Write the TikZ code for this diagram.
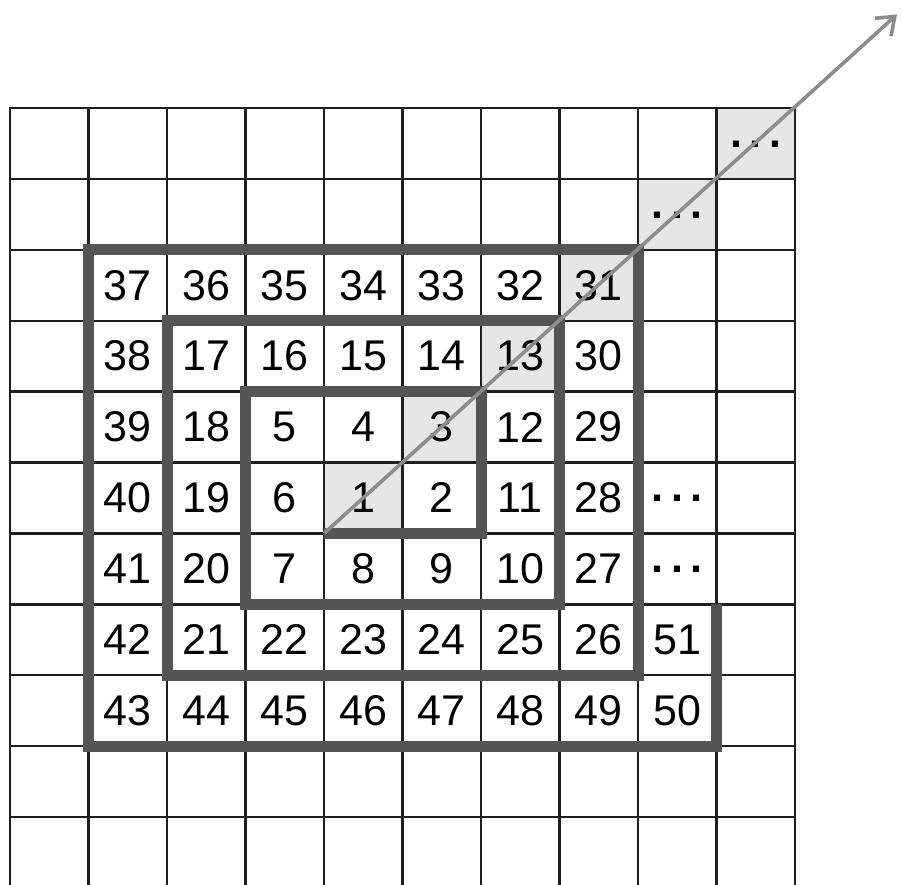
\documentclass[tikz,border=0pt]{standalone}
\usepackage{fontspec}
\setmainfont{Liberation Sans}
\usetikzlibrary{arrows.meta}
\definecolor{spiralgrey}{HTML}{555555}
\definecolor{shadegrey}{HTML}{E6E6E6}
\definecolor{arrowgrey}{HTML}{8C8C8C}
\begin{document}
\begin{tikzpicture}[x=78.5pt,y=-70.9pt,
  gridline/.style={line width=2.4pt, draw=black!88},
  spiralline/.style={line width=11pt, draw=spiralgrey, line join=miter, line cap=butt},
  shaded/.style={fill=shadegrey},
  num/.style={inner sep=0pt, font=\fontsize{43}{50}\selectfont},
  dotsnode/.style={inner sep=0pt, anchor=base, yshift=-4pt, font=\fontsize{43}{50}\selectfont\bfseries},
  diag/.style={line width=3.6pt, draw=arrowgrey, -{Straight Barb[length=16pt,width=24pt]}}
]
\useasboundingbox (-10pt,108pt) rectangle (892pt,-776pt);
\clip (-10pt,108pt) rectangle (892pt,-776pt);
% shaded diagonal cells
\foreach \c/\r in {4/5,5/4,6/3,7/2,8/1,9/0}
  \fill[shaded] (\c,\r) rectangle ++(1,1);
% grid
\foreach \i in {0,...,10}
  \draw[gridline] (\i,0) -- (\i,11.2);
\foreach \j in {0,...,10}
  \draw[gridline, line cap=rect] (0,\j) -- (10,\j);
% spiral
\draw[spiralline] (4,6) -- (6,6) -- (6,4) -- (3,4) -- (3,7) -- (7,7) -- (7,3) -- (2,3) -- (2,8) -- (8,8) -- (8,2) -- (1,2) -- (1,9) -- (9,9) -- (9,7);
% numbers
\foreach \n/\c/\r in {1/4/5,2/5/5,3/5/4,4/4/4,5/3/4,6/3/5,7/3/6,8/4/6,9/5/6,
  10/6/6,11/6/5,12/6/4,13/6/3,14/5/3,15/4/3,16/3/3,17/2/3,18/2/4,19/2/5,
  20/2/6,21/2/7,22/3/7,23/4/7,24/5/7,25/6/7,26/7/7,27/7/6,28/7/5,29/7/4,
  30/7/3,31/7/2,32/6/2,33/5/2,34/4/2,35/3/2,36/2/2,37/1/2,38/1/3,39/1/4,
  40/1/5,41/1/6,42/1/7,43/1/8,44/2/8,45/3/8,46/4/8,47/5/8,48/6/8,49/7/8,
  50/8/8,51/8/7}
  \node[num] (n\n) at (\c+0.5,\r+0.5) {\n};
% continuation dots
\foreach \k/\c/\r in {a/8/5,b/8/6,c/8/1,d/9/0}
  \node[dotsnode] (dots\k) at (\c+0.5,\r+0.5) {.\kern7.5pt.\kern7.5pt.};
% diagonal arrow
\coordinate (start) at (4,6);
\coordinate (tip) at (11.3,-1.32);
\draw[diag] (start) -- (tip);
\end{tikzpicture}
\end{document}
